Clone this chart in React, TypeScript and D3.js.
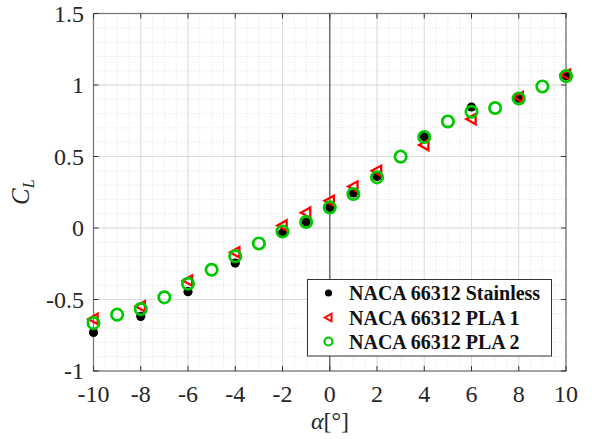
import React from "react";
import * as d3 from "d3";

const alphaStainless = [-10, -8, -6, -4, -2, -1, 0, 1, 2, 4, 6, 8, 10];
const clStainless = [-0.73, -0.618, -0.445, -0.245, -0.035, 0.042, 0.144, 0.245, 0.36, 0.64, 0.846, 0.908, 1.065];

const alphaPLA1 = [-10, -8, -6, -4, -2, -1, 0, 1, 2, 4, 6, 8, 10];
const clPLA1 = [-0.636, -0.548, -0.368, -0.17, 0.018, 0.107, 0.19, 0.29, 0.4, 0.58, 0.762, 0.915, 1.072];

const alphaPLA2 = [-10, -9, -8, -7, -6, -5, -4, -3, -2, -1, 0, 1, 2, 3, 4, 5, 6, 7, 8, 9, 10];
const clPLA2 = [-0.665, -0.606, -0.567, -0.485, -0.39, -0.292, -0.198, -0.108, -0.024, 0.042, 0.144, 0.238, 0.354, 0.499, 0.636, 0.745, 0.813, 0.839, 0.906, 0.99, 1.062];

const xTicks = [-10, -8, -6, -4, -2, 0, 2, 4, 6, 8, 10];
const yTicks = [-1, -0.5, 0, 0.5, 1, 1.5];
const yTickLabels = ["-1", "-0.5", "0", "0.5", "1", "1.5"];
const legendLabels = ["NACA 66312 Stainless", "NACA 66312 PLA 1", "NACA 66312 PLA 2"];

const W = 592, H = 439;
const L = 93.5, R = 566, T = 13.5, B = 371;
const font = "'Liberation Serif', 'Times New Roman', serif";
const green = "#00c800";
const red = "#ff0000";

const x = d3.scaleLinear().domain([-10, 10]).range([L, R]);
const y = d3.scaleLinear().domain([-1, 1.5]).range([B, T]);

const triPath = (cx: number, cy: number, s: number) =>
  `M${cx - s},${cy} L${cx + s * 0.8},${cy - s} L${cx + s * 0.8},${cy + s} Z`;

export default function App() {
  const xMinor = d3.range(-10, 10.001, 0.5);
  const yMinor = d3.range(-1, 1.5001, 0.1);
  const tickLen = 5;
  return (
    <svg width={W} height={H} style={{ position: "absolute", left: 0, top: 0, background: "#fff" }}>
      <rect x={0} y={0} width={W} height={H} fill="#fff" />
      {xMinor.map((v, i) => (
        <line key={"xm" + i} x1={x(v)} x2={x(v)} y1={T} y2={B} stroke="#d8d8d8" strokeWidth={0.8} strokeDasharray="1,2" />
      ))}
      {yMinor.map((v, i) => (
        <line key={"ym" + i} x1={L} x2={R} y1={y(v)} y2={y(v)} stroke="#d8d8d8" strokeWidth={0.8} strokeDasharray="1,2" />
      ))}
      {xTicks.map((v, i) => (
        <line key={"xg" + i} x1={x(v)} x2={x(v)} y1={T} y2={B} stroke="#dcdcdc" strokeWidth={1} />
      ))}
      {yTicks.map((v, i) => (
        <line key={"yg" + i} x1={L} x2={R} y1={y(v)} y2={y(v)} stroke="#dcdcdc" strokeWidth={1} />
      ))}
      <line x1={x(0)} x2={x(0)} y1={T} y2={B} stroke="#707070" strokeWidth={1.5} />
      <rect x={L} y={T} width={R - L} height={B - T} fill="none" stroke="#7a7a7a" strokeWidth={1.3} />
      {xTicks.map((v, i) => (
        <g key={"xt" + i}>
          <line x1={x(v)} x2={x(v)} y1={B} y2={B - tickLen} stroke="#333" strokeWidth={1} />
          <line x1={x(v)} x2={x(v)} y1={T} y2={T + tickLen} stroke="#333" strokeWidth={1} />
          <text x={x(v)} y={402} textAnchor="middle" fontFamily={font} fontSize={24} fill="#262626">{v}</text>
        </g>
      ))}
      {yTicks.map((v, i) => (
        <g key={"yt" + i}>
          <line x1={L} x2={L + tickLen} y1={y(v)} y2={y(v)} stroke="#333" strokeWidth={1} />
          <line x1={R} x2={R - tickLen} y1={y(v)} y2={y(v)} stroke="#333" strokeWidth={1} />
          <text x={84} y={y(v) + 8} textAnchor="end" fontFamily={font} fontSize={24} fill="#262626">{yTickLabels[i]}</text>
        </g>
      ))}
      <text x={330} y={429} textAnchor="middle" fontFamily={font} fontSize={24} fill="#262626">
        <tspan fontStyle="italic">α</tspan>
        <tspan>[°]</tspan>
      </text>
      <text transform={`translate(29,${(T + B) / 2}) rotate(-90)`} textAnchor="middle" fontFamily={font} fontSize={25} fill="#262626">
        <tspan fontStyle="italic">C</tspan>
        <tspan fontStyle="italic" fontSize={16} dy={5}>L</tspan>
      </text>
      {alphaStainless.map((a, i) => (
        <circle key={"s" + i} cx={x(a)} cy={y(clStainless[i])} r={4.6} fill="#000" />
      ))}
      {alphaPLA1.map((a, i) => (
        <path key={"p1" + i} d={triPath(x(a), y(clPLA1[i]), 5.2)} fill="none" stroke={red} strokeWidth={2.3} />
      ))}
      {alphaPLA2.map((a, i) => (
        <circle key={"p2" + i} cx={x(a)} cy={y(clPLA2[i])} r={5.7} fill="none" stroke={green} strokeWidth={2.7} />
      ))}
      <rect x={307.5} y={279.5} width={244} height={76.5} fill="#fff" stroke="#333" strokeWidth={1} />
      <circle cx={328.5} cy={293} r={3.6} fill="#000" />
      <path d={triPath(328.5, 317.5, 3.8)} fill="none" stroke={red} strokeWidth={2} />
      <circle cx={328.5} cy={341.5} r={4} fill="none" stroke={green} strokeWidth={2.2} />
      {legendLabels.map((s, i) => (
        <text key={"lg" + i} x={349} y={300 + i * 24.5} fontFamily={font} fontWeight="bold" fontSize={20} fill="#111">{s}</text>
      ))}
    </svg>
  );
}
